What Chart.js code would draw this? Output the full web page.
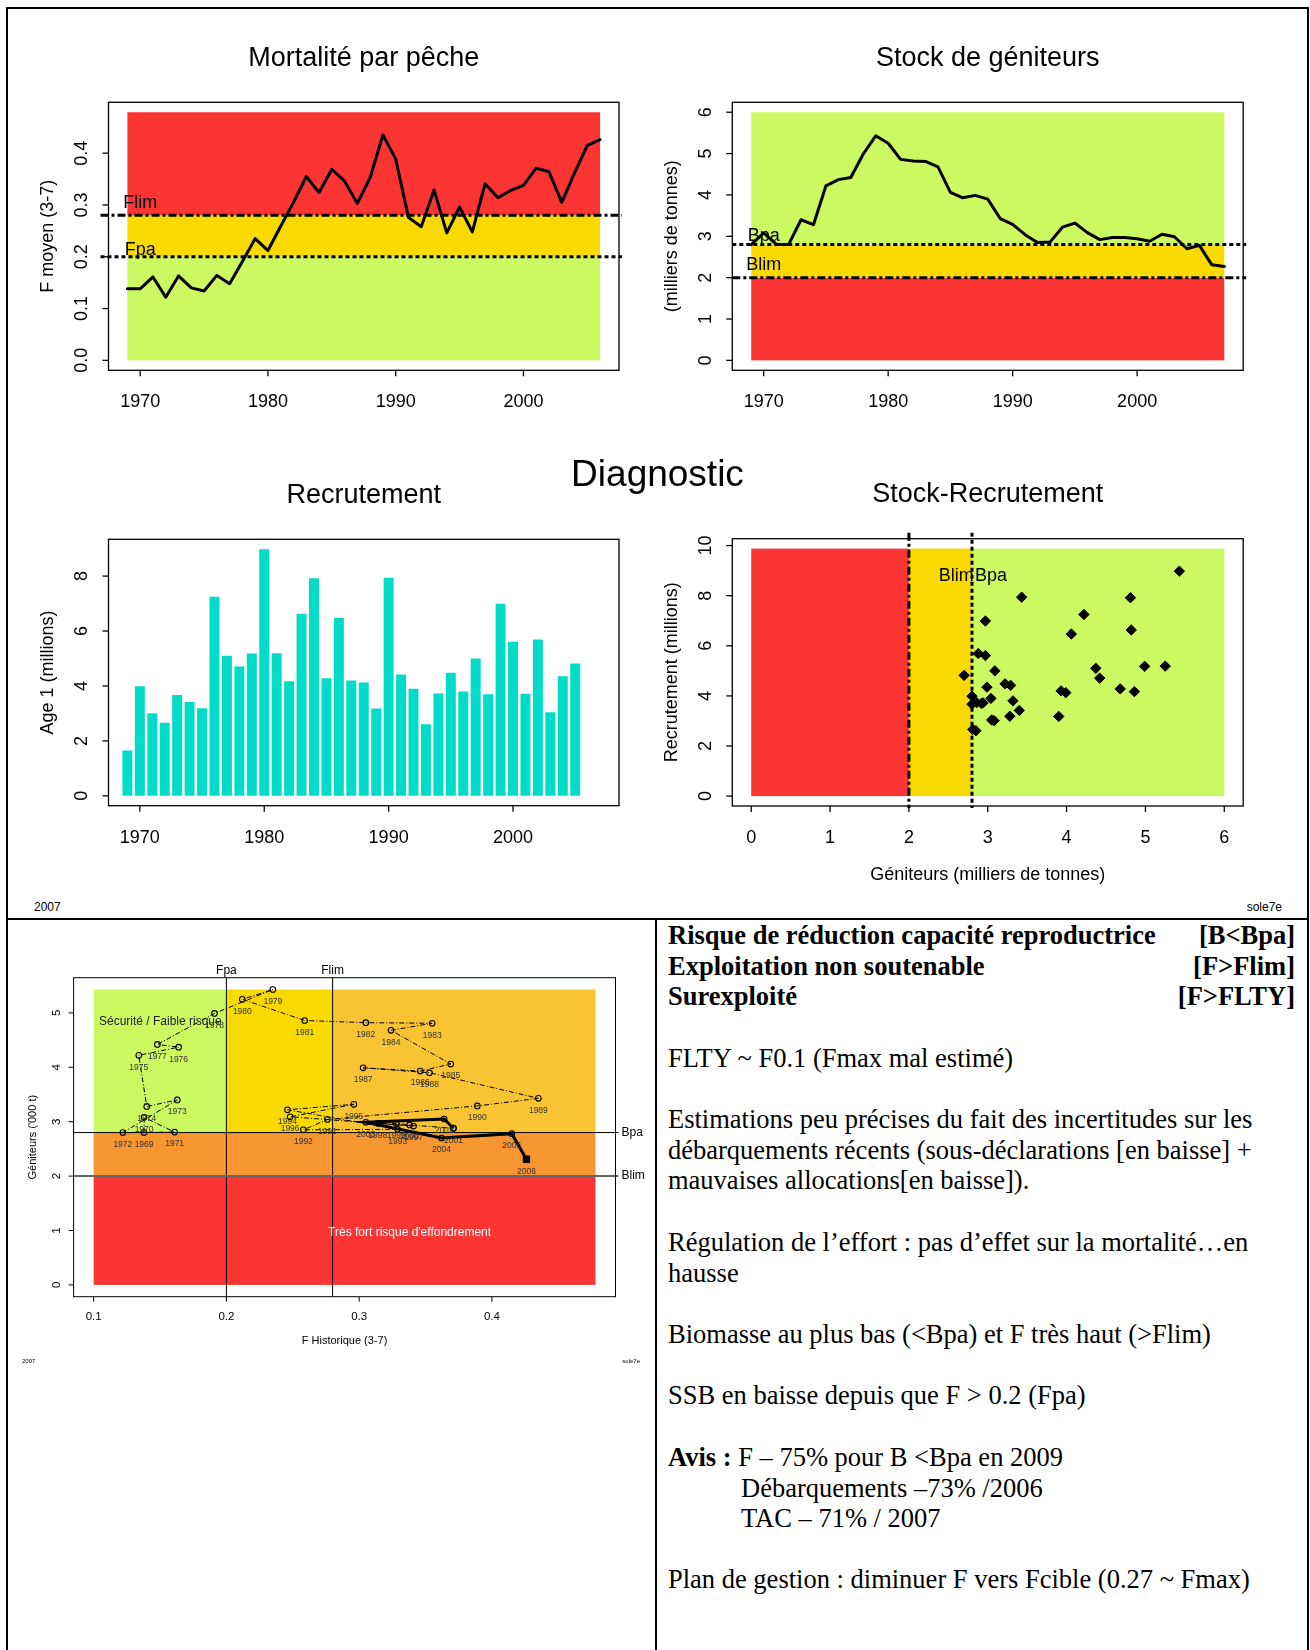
<!DOCTYPE html>
<html lang="fr">
<head>
<meta charset="utf-8">
<title>Diagnostic — sole7e</title>
<script src="https://cdn.jsdelivr.net/npm/chart.js@4.4.1/dist/chart.umd.min.js"></script>
<style>
  html, body { margin: 0; padding: 0; background: #fff; }
  #page { position: relative; width: 1310px; height: 1650px; overflow: hidden; font-family: "Liberation Sans", Arial, sans-serif; }
  .rule { position: absolute; background: #000; }
  canvas { position: absolute; }
  .lbl { position: absolute; white-space: nowrap; color: #000; }
  .notes { position: absolute; left: 668px; font-family: "Liberation Serif", "Times New Roman", serif; font-size: 26.5px; line-height: 30.5px; color: #000; white-space: nowrap; }
  .row { width: 627px; display: flex; justify-content: space-between; font-weight: bold; }
  .indent { left: 741px; }
</style>
</head>
<body>
<div id="page">
  <!-- frame -->
  <div class="rule" style="left:6px;top:7px;width:1303px;height:2px"></div>
  <div class="rule" style="left:6px;top:7px;width:2px;height:1643px"></div>
  <div class="rule" style="left:1307px;top:7px;width:2px;height:1643px"></div>
  <div class="rule" style="left:6px;top:918px;width:1303px;height:2px"></div>
  <div class="rule" style="left:655px;top:918px;width:2px;height:732px"></div>

  <canvas id="cF"></canvas>
  <canvas id="cSSB"></canvas>
  <canvas id="cRec"></canvas>
  <canvas id="cSR"></canvas>
  <canvas id="cPhase"></canvas>

  <div class="lbl" style="left:0;width:1315px;top:452px;text-align:center;font-size:37px;line-height:44px">Diagnostic</div>
  <div class="lbl" style="left:34px;top:900px;font-size:12px;line-height:14px">2007</div>
  <div class="lbl" style="left:1182px;width:100px;top:900px;font-size:12px;line-height:14px;text-align:right">sole7e</div>
  <div class="lbl" style="left:22px;top:1357px;font-size:6px;line-height:8px">2007</div>
  <div class="lbl" style="left:560px;width:80px;top:1357px;font-size:6px;line-height:8px;text-align:right">sole7e</div>

  <!-- notes -->
  <div class="notes row" style="top:920px"><span>Risque de réduction capacité reproductrice</span><span>[B&lt;Bpa]</span></div>
  <div class="notes row" style="top:951px"><span>Exploitation non soutenable</span><span>[F&gt;Flim]</span></div>
  <div class="notes row" style="top:981px"><span>Surexploité</span><span>[F&gt;FLTY]</span></div>
  <div class="notes" style="top:1043px">FLTY ~ F0.1 (Fmax mal estimé)</div>
  <div class="notes" style="top:1104px">Estimations peu précises du fait des incertitudes sur les</div>
  <div class="notes" style="top:1135px">débarquements récents (sous-déclarations [en baisse] +</div>
  <div class="notes" style="top:1165px">mauvaises allocations[en baisse]).</div>
  <div class="notes" style="top:1227px">Régulation de l’effort : pas d’effet sur la mortalité…en</div>
  <div class="notes" style="top:1258px">hausse</div>
  <div class="notes" style="top:1319px">Biomasse au plus bas (&lt;Bpa) et F très haut (&gt;Flim)</div>
  <div class="notes" style="top:1380px">SSB en baisse depuis que F &gt; 0.2 (Fpa)</div>
  <div class="notes" style="top:1442px"><b>Avis :</b> F – 75% pour B &lt;Bpa en 2009</div>
  <div class="notes indent" style="top:1473px">Débarquements –73% /2006</div>
  <div class="notes indent" style="top:1503px">TAC – 71% / 2007</div>
  <div class="notes" style="top:1564px">Plan de gestion : diminuer F vers Fcible (0.27 ~ Fmax)</div>
</div>

<script>
/* ── DATA ── */
const fYears = [1969, 1970, 1971, 1972, 1973, 1974, 1975, 1976, 1977, 1978,
  1979, 1980, 1981, 1982, 1983, 1984, 1985, 1986, 1987, 1988,
  1989, 1990, 1991, 1992, 1993, 1994, 1995, 1996, 1997, 1998,
  1999, 2000, 2001, 2002, 2003, 2004, 2005, 2006];
const fMean = [0.138, 0.138, 0.161, 0.122, 0.163, 0.140, 0.134, 0.164, 0.148, 0.191,
  0.235, 0.212, 0.259, 0.305, 0.355, 0.324, 0.369, 0.346, 0.303, 0.353,
  0.435, 0.389, 0.276, 0.258, 0.329, 0.246, 0.296, 0.248, 0.341, 0.314,
  0.328, 0.338, 0.371, 0.364, 0.305, 0.362, 0.415, 0.426];

const ssbYears = [1969, 1970, 1971, 1972, 1973, 1974, 1975, 1976, 1977, 1978,
  1979, 1980, 1981, 1982, 1983, 1984, 1985, 1986, 1987, 1988,
  1989, 1990, 1991, 1992, 1993, 1994, 1995, 1996, 1997, 1998,
  1999, 2000, 2001, 2002, 2003, 2004, 2005, 2006, 2007];
const ssb = [2.80, 3.08, 2.81, 2.80, 3.40, 3.28, 4.22, 4.37, 4.42, 4.99,
  5.43, 5.25, 4.86, 4.82, 4.81, 4.68, 4.06, 3.93, 3.99, 3.90,
  3.43, 3.29, 3.04, 2.85, 2.86, 3.22, 3.32, 3.09, 2.92, 2.97,
  2.97, 2.94, 2.88, 3.05, 2.99, 2.70, 2.78, 2.31, 2.27];

const recYears = [1969, 1970, 1971, 1972, 1973, 1974, 1975, 1976, 1977, 1978,
  1979, 1980, 1981, 1982, 1983, 1984, 1985, 1986, 1987, 1988,
  1989, 1990, 1991, 1992, 1993, 1994, 1995, 1996, 1997, 1998,
  1999, 2000, 2001, 2002, 2003, 2004, 2005];
const recruits = [1.65, 3.99, 3.01, 2.66, 3.67, 3.42, 3.19, 7.25, 5.10, 4.71,
  5.18, 8.98, 5.19, 4.17, 6.63, 7.92, 4.28, 6.47, 4.20, 4.13,
  3.18, 7.94, 4.42, 3.90, 2.61, 3.73, 4.48, 3.80, 5.00, 3.70,
  6.99, 5.61, 3.72, 5.69, 3.04, 4.35, 4.82];

// reference points and zone limits
const Fpa = 0.2, Flim = 0.28, Bpa = 2.8, Blim = 2.0;
const fZoneTop = 0.479, ssbZoneTop = 6, recZoneTop = 9.88;
const phaseZoneF = 0.478, phaseZoneB = 5.43;

// ticks
const yearTicks = [1970, 1980, 1990, 2000];
const fTicksY = [0, 0.1, 0.2, 0.3, 0.4];
const ssbTicksY = [0, 1, 2, 3, 4, 5, 6];
const recTicksY = [0, 2, 4, 6, 8];
const srTicksX = [0, 1, 2, 3, 4, 5, 6];
const srTicksY = [0, 2, 4, 6, 8, 10];
const phaseTicksX = [0.1, 0.2, 0.3, 0.4];
const phaseTicksY = [0, 1, 2, 3, 4, 5];

/* ── STYLE ── */
const RED = "#fb3434", GOLD = "#f9da00", GREEN = "#cbf962";
const ORANGE = "#f89632", AMBER = "#f9c434", TEAL = "#00dcc8";
const SANS = '"Liberation Sans", Arial, sans-serif';
const DOT = [4, 3], DOTDASH = [8, 3, 3, 3];
const font = (px) => px + "px " + SANS;

const bigAxes = {
  tickFont: font(18), tickLen: 6, xGap: 32, yGap: 26,
  titleFont: font(27), titleGap: 44, labFont: font(18), yLabGap: 60, xLabGap: 69, box: 1.3,
};

/* ── DECORATION PLUGIN (zones, reference lines, R-style axes) ── */
function decor(o) {
  return {
    id: "decor",
    beforeDatasetsDraw(chart) {
      const { ctx, scales: { x, y } } = chart;
      ctx.save();
      (o.zones || []).forEach((z) => {
        const x0 = x.getPixelForValue(z.x0), x1 = x.getPixelForValue(z.x1);
        const y0 = y.getPixelForValue(z.y0), y1 = y.getPixelForValue(z.y1);
        ctx.fillStyle = z.color;
        ctx.fillRect(x0, y1, x1 - x0, y0 - y1);
      });
      ctx.restore();
    },
    afterDatasetsDraw(chart) {
      const { ctx, chartArea: a, scales: { x, y } } = chart;
      ctx.save();
      (o.refs || []).forEach((r) => {
        ctx.beginPath();
        ctx.strokeStyle = r.color || "#000";
        ctx.lineWidth = r.width;
        ctx.setLineDash(r.dash || []);
        if (r.axis === "y") {
          const py = y.getPixelForValue(r.value);
          ctx.moveTo(a.left + (r.from || 0), py);
          ctx.lineTo(a.right + (r.to || 0), py);
        } else {
          const px = x.getPixelForValue(r.value);
          ctx.moveTo(px, a.top + (r.from || 0));
          ctx.lineTo(px, a.bottom + (r.to || 0));
        }
        ctx.stroke();
      });
      ctx.setLineDash([]);

      if (o.pointLabels) {
        const pl = o.pointLabels;
        const done = new Set();
        ctx.font = pl.font;
        ctx.fillStyle = pl.color;
        ctx.textAlign = "center";
        ctx.textBaseline = "middle";
        chart.data.datasets.forEach((ds, di) => {
          chart.getDatasetMeta(di).data.forEach((el, i) => {
            const tag = ds.data[i].tag;
            if (!tag || done.has(tag)) return;
            done.add(tag);
            ctx.fillText(tag, el.x, el.y + pl.dy);
          });
        });
      }

      (o.notes || []).forEach((n) => {
        ctx.font = n.font;
        ctx.fillStyle = n.color || "#000";
        ctx.textAlign = n.align || "center";
        ctx.textBaseline = "middle";
        const px = n.x === "right" ? a.right : x.getPixelForValue(n.x);
        const py = n.y === "top" ? a.top : y.getPixelForValue(n.y);
        ctx.fillText(n.text, px + (n.dx || 0), py + (n.dy || 0));
      });
      ctx.restore();
    },
    afterDraw(chart) {
      const { ctx, chartArea: a, scales: { x, y } } = chart;
      const ax = o.axes;
      ctx.save();
      ctx.strokeStyle = "#000";
      ctx.lineWidth = ax.box;
      ctx.strokeRect(a.left, a.top, a.right - a.left, a.bottom - a.top);

      ctx.fillStyle = "#000";
      ctx.font = ax.tickFont;
      ctx.textAlign = "center";
      ctx.textBaseline = "middle";
      ax.xTicks.forEach((v) => {
        const px = x.getPixelForValue(v);
        ctx.beginPath();
        ctx.moveTo(px, a.bottom);
        ctx.lineTo(px, a.bottom + ax.tickLen);
        ctx.stroke();
        ctx.fillText(ax.xFmt(v), px, a.bottom + ax.xGap);
      });
      ax.yTicks.forEach((v) => {
        const py = y.getPixelForValue(v);
        ctx.beginPath();
        ctx.moveTo(a.left - ax.tickLen, py);
        ctx.lineTo(a.left, py);
        ctx.stroke();
        ctx.save();
        ctx.translate(a.left - ax.yGap, py);
        ctx.rotate(-Math.PI / 2);
        ctx.fillText(ax.yFmt(v), 0, 0);
        ctx.restore();
      });

      const cx = (a.left + a.right) / 2, cy = (a.top + a.bottom) / 2;
      if (ax.title) {
        ctx.font = ax.titleFont;
        ctx.fillText(ax.title, cx, a.top - ax.titleGap);
      }
      ctx.font = ax.labFont;
      if (ax.xLab) ctx.fillText(ax.xLab, cx, a.bottom + ax.xLabGap);
      if (ax.yLab) {
        ctx.save();
        ctx.translate(a.left - ax.yLabGap, cy);
        ctx.rotate(-Math.PI / 2);
        ctx.fillText(ax.yLab, 0, 0);
        ctx.restore();
      }
      ctx.restore();
    },
  };
}

/* ── CHART FACTORY ── */
function makeChart(id, region, box, cfg, deco) {
  const cv = document.getElementById(id);
  cv.width = region.w;
  cv.height = region.h;
  cv.style.left = region.x + "px";
  cv.style.top = region.y + "px";
  cv.style.width = region.w + "px";
  cv.style.height = region.h + "px";
  return new Chart(cv, {
    type: cfg.type,
    data: { datasets: cfg.datasets },
    options: {
      responsive: false,
      animation: false,
      devicePixelRatio: 1,
      events: [],
      layout: {
        padding: {
          left: box.l - region.x,
          top: box.t - region.y,
          right: region.x + region.w - box.r,
          bottom: region.y + region.h - box.b,
        },
      },
      plugins: { legend: { display: false }, tooltip: { enabled: false } },
      scales: {
        x: { type: "linear", display: false, offset: false, min: cfg.x[0], max: cfg.x[1] },
        y: { type: "linear", display: false, min: cfg.y[0], max: cfg.y[1] },
      },
    },
    plugins: [decor(deco)],
  });
}

const num1 = (v) => v.toFixed(1);
const int = (v) => String(v);

/* ── MORTALITE PAR PECHE ── */
makeChart("cF",
  { x: 10, y: 20, w: 640, h: 420 },
  { l: 108.5, t: 102.3, r: 619, b: 370.3 },
  {
    type: "line",
    x: [1967.52, 2007.48],
    y: [-0.0192, 0.4982],
    datasets: [{
      data: fYears.map((yr, i) => ({ x: yr, y: fMean[i] })),
      borderColor: "#000", borderWidth: 3, pointRadius: 0,
      borderJoinStyle: "round", borderCapStyle: "round",
    }],
  },
  {
    zones: [
      { x0: fYears[0], x1: fYears[fYears.length - 1], y0: 0, y1: Fpa, color: GREEN },
      { x0: fYears[0], x1: fYears[fYears.length - 1], y0: Fpa, y1: Flim, color: GOLD },
      { x0: fYears[0], x1: fYears[fYears.length - 1], y0: Flim, y1: fZoneTop, color: RED },
    ],
    refs: [
      { axis: "y", value: Flim, width: 3, dash: DOTDASH, from: -8, to: 3 },
      { axis: "y", value: Fpa, width: 3, dash: DOT, from: -8, to: 3 },
    ],
    notes: [
      { text: "Flim", x: 1970, y: Flim, dy: -12, font: font(18) },
      { text: "Fpa", x: 1970, y: Fpa, dy: -7, font: font(18) },
    ],
    axes: { ...bigAxes, xTicks: yearTicks, yTicks: fTicksY, xFmt: int, yFmt: num1,
      title: "Mortalité par pêche", yLab: "F moyen (3-7)" },
  });

/* ── STOCK DE GENITEURS ── */
makeChart("cSSB",
  { x: 660, y: 20, w: 640, h: 420 },
  { l: 732.3, t: 102.3, r: 1243.2, b: 370.3 },
  {
    type: "line",
    x: [1967.48, 2008.52],
    y: [-0.24, 6.24],
    datasets: [{
      data: ssbYears.map((yr, i) => ({ x: yr, y: ssb[i] })),
      borderColor: "#000", borderWidth: 3, pointRadius: 0,
      borderJoinStyle: "round", borderCapStyle: "round",
    }],
  },
  {
    zones: [
      { x0: ssbYears[0], x1: ssbYears[ssbYears.length - 1], y0: 0, y1: Blim, color: RED },
      { x0: ssbYears[0], x1: ssbYears[ssbYears.length - 1], y0: Blim, y1: Bpa, color: GOLD },
      { x0: ssbYears[0], x1: ssbYears[ssbYears.length - 1], y0: Bpa, y1: ssbZoneTop, color: GREEN },
    ],
    refs: [
      { axis: "y", value: Bpa, width: 3, dash: DOT, from: 0, to: 3 },
      { axis: "y", value: Blim, width: 3, dash: DOTDASH, from: 0, to: 3 },
    ],
    notes: [
      { text: "Bpa", x: 1970, y: Bpa, dy: -9, font: font(18) },
      { text: "Blim", x: 1970, y: Blim, dy: -13, font: font(18) },
    ],
    axes: { ...bigAxes, xTicks: yearTicks, yTicks: ssbTicksY, xFmt: int, yFmt: int,
      title: "Stock de géniteurs", yLab: "(milliers de tonnes)" },
  });

/* ── RECRUTEMENT ── */
makeChart("cRec",
  { x: 10, y: 440, w: 640, h: 460 },
  { l: 108.5, t: 539.3, r: 619, b: 805.7 },
  {
    type: "bar",
    x: [1967.48, 2008.52],
    y: [-0.359, 9.339],
    datasets: [{
      data: recYears.map((yr, i) => ({ x: yr, y: recruits[i] })),
      backgroundColor: TEAL, borderWidth: 0,
      barPercentage: 0.8, categoryPercentage: 1,
    }],
  },
  {
    axes: { ...bigAxes, xTicks: yearTicks, yTicks: recTicksY, xFmt: int, yFmt: int,
      title: "Recrutement", yLab: "Age 1 (millions)" },
  });

/* ── STOCK-RECRUTEMENT ── */
const srPoints = recYears
  .filter((yr) => ssbYears.includes(yr - 1))
  .map((yr) => ({ x: ssb[ssbYears.indexOf(yr - 1)], y: recruits[recYears.indexOf(yr)] }));

makeChart("cSR",
  { x: 660, y: 440, w: 640, h: 460 },
  { l: 732.3, t: 538.7, r: 1243.2, b: 806 },
  {
    type: "scatter",
    x: [-0.24, 6.24],
    y: [-0.395, 10.275],
    datasets: [{
      data: srPoints,
      pointStyle: "rectRot", pointRadius: 5.2,
      pointBackgroundColor: "#000", pointBorderColor: "#000", pointBorderWidth: 1,
    }],
  },
  {
    zones: [
      { x0: 0, x1: Blim, y0: 0, y1: recZoneTop, color: RED },
      { x0: Blim, x1: Bpa, y0: 0, y1: recZoneTop, color: GOLD },
      { x0: Bpa, x1: ssbZoneTop, y0: 0, y1: recZoneTop, color: GREEN },
    ],
    refs: [
      { axis: "x", value: Blim, width: 3, dash: DOTDASH, from: -6, to: 2 },
      { axis: "x", value: Bpa, width: 3, dash: DOT, from: -6, to: 2 },
    ],
    notes: [
      { text: "Blim", x: 2.6, y: 8.8, font: font(18) },
      { text: "Bpa", x: 3.04, y: 8.8, font: font(18) },
    ],
    axes: { ...bigAxes, xTicks: srTicksX, yTicks: srTicksY, xFmt: int, yFmt: int,
      title: "Stock-Recrutement", yLab: "Recrutement (millions)",
      xLab: "Géniteurs (milliers de tonnes)" },
  });

/* ── PHASE PLOT F / SSB ── */
const phasePoints = fYears.map((yr, i) => ({
  x: fMean[i], y: ssb[ssbYears.indexOf(yr)], tag: String(yr), last: yr === 2006,
}));
const boldFrom = fYears.indexOf(2001);

makeChart("cPhase",
  { x: 10, y: 940, w: 645, h: 440 },
  { l: 73.6, t: 977.7, r: 615.5, b: 1296.7 },
  {
    type: "scatter",
    x: [0.0849, 0.4931],
    y: [-0.217, 5.647],
    datasets: [
      {
        data: phasePoints.slice(0, boldFrom + 1),
        showLine: true, borderColor: "#000", borderWidth: 1, borderDash: [5, 2, 1, 2],
        pointStyle: "circle", pointRadius: 2.8, pointBorderWidth: 1.1,
        pointBorderColor: "#000", pointBackgroundColor: "rgba(0,0,0,0)",
      },
      {
        data: phasePoints.slice(boldFrom),
        showLine: true, borderColor: "#000", borderWidth: 3,
        pointStyle: (c) => (c.raw && c.raw.last ? "rect" : "circle"),
        pointRadius: (c) => (c.raw && c.raw.last ? 4.4 : 2.8),
        pointBorderWidth: 1.1, pointBorderColor: "#000",
        pointBackgroundColor: (c) => (c.raw && c.raw.last ? "#000" : "rgba(0,0,0,0)"),
      },
    ],
  },
  {
    zones: [
      { x0: 0.1, x1: Fpa, y0: Bpa, y1: phaseZoneB, color: GREEN },
      { x0: Fpa, x1: Flim, y0: Bpa, y1: phaseZoneB, color: GOLD },
      { x0: Flim, x1: phaseZoneF, y0: Bpa, y1: phaseZoneB, color: AMBER },
      { x0: 0.1, x1: phaseZoneF, y0: Blim, y1: Bpa, color: ORANGE },
      { x0: 0.1, x1: phaseZoneF, y0: 0, y1: Blim, color: RED },
    ],
    refs: [
      { axis: "x", value: Fpa, width: 1, from: 0, to: 0 },
      { axis: "x", value: Flim, width: 1, from: 0, to: 0 },
      { axis: "y", value: Bpa, width: 1, from: 0, to: 3 },
      { axis: "y", value: Blim, width: 2, color: "#666", from: 0, to: 3 },
    ],
    pointLabels: { font: font(8.5), color: "#333", dy: 12 },
    notes: [
      { text: "Sécurité / Faible risque", x: 0.104, y: 4.84, align: "left", font: font(12), color: "#222" },
      { text: "Très fort risque d'effondrement", x: 0.338, y: 0.96, font: font(12), color: "#fff" },
      { text: "Fpa", x: Fpa, y: "top", dy: -7, font: font(12) },
      { text: "Flim", x: Flim, y: "top", dy: -7, font: font(12) },
      { text: "Bpa", x: "right", y: Bpa, dx: 6, align: "left", font: font(12) },
      { text: "Blim", x: "right", y: Blim, dx: 6, align: "left", font: font(12) },
    ],
    axes: {
      tickFont: font(11.5), tickLen: 5, xGap: 20, yGap: 17, box: 1,
      titleFont: font(12), titleGap: 0, labFont: font(11), yLabGap: 41, xLabGap: 44,
      xTicks: phaseTicksX, yTicks: phaseTicksY, xFmt: num1, yFmt: int,
      yLab: "Géniteurs ('000 t)", xLab: "F Historique (3-7)",
    },
  });
</script>
</body>
</html>
